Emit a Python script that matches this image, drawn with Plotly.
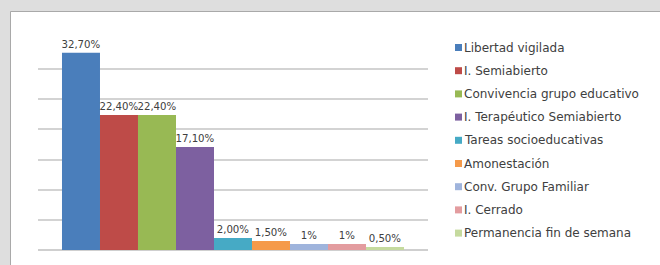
import plotly.graph_objects as go

categories = ["Libertad vigilada", "I. Semiabierto", "Convivencia grupo educativo",
              "I. Terapéutico Semiabierto", "Tareas socioeducativas", "Amonestación",
              "Conv. Grupo Familiar", "I. Cerrado", "Permanencia fin de semana"]
values = [32.7, 22.4, 22.4, 17.1, 2.0, 1.5, 1.0, 1.0, 0.5]
value_labels = ["32,70%", "22,40%", "22,40%", "17,10%", "2,00%", "1,50%", "1%", "1%", "0,50%"]
colors = ["#4a7ebb", "#be4b48", "#98b954", "#7d60a0", "#46aac5", "#f59a4a",
          "#9fb4dc", "#e39c9f", "#c5da9e"]

W, H = 660, 265
L, R, T, B = 38, 428, 39, 250  # plot area in px


def xp(px):
    return (px - L) / (R - L)


def yp(py):
    return (B - py) / (B - T)


fig = go.Figure()
for name, v, lab, c in zip(categories, values, value_labels, colors):
    fig.add_trace(go.Bar(
        x=["g"], y=[v], name=name, marker=dict(color=c, line=dict(width=0)),
        text=[lab], textposition="outside", cliponaxis=False,
        textfont=dict(family="DejaVu Sans", size=10.2, color="#404040"),
        showlegend=False, hoverinfo="name+y",
    ))

shapes = [
    dict(type="rect", xref="paper", yref="paper", x0=xp(11), x1=xp(W + 5), y0=yp(12), y1=yp(H + 5),
         fillcolor="white", line=dict(width=0), layer="below"),
    dict(type="line", xref="paper", yref="paper", x0=xp(10.5), x1=xp(W + 5), y0=yp(11.5), y1=yp(11.5),
         line=dict(color="#a9a9a9", width=1), layer="below"),
    dict(type="line", xref="paper", yref="paper", x0=xp(10.5), x1=xp(10.5), y0=yp(11.5), y1=yp(H + 5),
         line=dict(color="#a9a9a9", width=1), layer="below"),
]
annotations = []
for i, (name, c) in enumerate(zip(categories, colors)):
    cy = 47.5 + 23.2 * i
    shapes.append(dict(type="rect", xref="paper", yref="paper",
                       x0=xp(455), x1=xp(462), y0=yp(cy - 3.5), y1=yp(cy + 3.5),
                       fillcolor=c, line=dict(width=0)))
    annotations.append(dict(xref="paper", yref="paper", x=xp(462), y=yp(cy), text=name,
                            showarrow=False, xanchor="left", yanchor="middle",
                            font=dict(family="DejaVu Sans", size=12, color="#404040")))

fig.update_layout(
    width=W, height=H,
    margin=dict(l=L, r=W - R, t=T, b=H - B, pad=0),
    paper_bgcolor="#dedede", plot_bgcolor="white",
    barmode="group", bargap=0.123, bargroupgap=0,
    shapes=shapes, annotations=annotations,
    showlegend=False,
    xaxis=dict(showticklabels=False, showgrid=False, zeroline=False, showline=False,
               ticks="", fixedrange=True),
    yaxis=dict(range=[0, 35], dtick=5, showticklabels=False, showgrid=True,
               gridcolor="#d3d3d3", gridwidth=1.5, zeroline=True, zerolinecolor="#cfcfcf",
               zerolinewidth=2, ticks="", showline=False, fixedrange=True),
)
fig.update_traces(constraintext="none")

fig.write_html("out.html", config={"displayModeBar": False},
               post_script="document.body.style.margin='0';document.body.style.overflow='hidden';")
